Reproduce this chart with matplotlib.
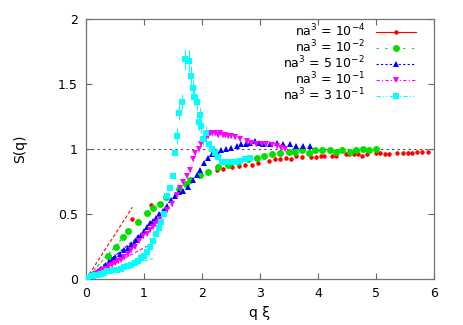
import matplotlib
matplotlib.use("Agg")
import matplotlib.pyplot as plt
from matplotlib.lines import Line2D
import numpy as np

# na^3 = 1e-4 (red)
red_x = [0.79, 1.12, 2.25, 2.37, 2.51, 2.64, 2.74, 2.86, 2.97, 3.16, 3.26, 3.34, 3.45,
         3.53, 3.63, 3.72, 3.88, 3.96, 4.05, 4.10, 4.25, 4.32, 4.48, 4.54, 4.62, 4.70,
         4.76, 4.84, 5.00, 5.07, 5.16, 5.23, 5.36, 5.47, 5.56, 5.63, 5.71, 5.79, 5.90]
red_y = [0.46, 0.57, 0.84, 0.85, 0.86, 0.87, 0.88, 0.88, 0.89, 0.91, 0.92, 0.92, 0.93,
         0.92, 0.95, 0.94, 0.94, 0.94, 0.95, 0.95, 0.95, 0.95, 0.96, 0.96, 0.96, 0.96,
         0.95, 0.96, 0.97, 0.97, 0.96, 0.96, 0.97, 0.97, 0.97, 0.97, 0.98, 0.98, 0.98]

# na^3 = 1e-2 (green)
green_x = [0.38, 0.52, 0.64, 0.72, 0.90, 1.05, 1.16, 1.28, 1.38, 1.60, 1.72, 1.80, 1.97,
           2.10, 2.28, 2.45, 2.62, 2.80, 2.95, 3.07, 3.20, 3.35, 3.50, 3.60, 3.73, 3.84,
           3.95, 4.07, 4.20, 4.31, 4.42, 4.55, 4.65, 4.77, 4.88, 5.00]
green_y = [0.18, 0.25, 0.32, 0.37, 0.44, 0.51, 0.55, 0.58, 0.63, 0.69, 0.73, 0.76, 0.80,
           0.82, 0.86, 0.88, 0.90, 0.92, 0.93, 0.95, 0.96, 0.97, 0.98, 0.98, 0.99, 0.97,
           0.99, 0.99, 0.99, 0.98, 0.99, 0.98, 0.99, 1.00, 0.99, 1.00]

# na^3 = 5e-2 (blue)
blue_x = [0.05, 0.10, 0.15, 0.21, 0.26, 0.30, 0.35, 0.40, 0.45, 0.50, 0.58, 0.66, 0.72,
          0.77, 0.82, 0.86, 0.90, 0.94, 1.00, 1.05, 1.11, 1.16, 1.20, 1.26, 1.32, 1.36,
          1.40, 1.47, 1.53, 1.60, 1.68, 1.76, 1.85, 1.92, 1.97, 2.03, 2.11, 2.18, 2.25,
          2.33, 2.42, 2.50, 2.60, 2.68, 2.76, 2.83, 2.91, 2.98, 3.06, 3.17, 3.29, 3.40,
          3.52, 3.63, 3.75, 3.86]
blue_y = [0.01, 0.03, 0.04, 0.06, 0.07, 0.09, 0.11, 0.13, 0.15, 0.17, 0.19, 0.22, 0.24,
          0.26, 0.28, 0.30, 0.32, 0.34, 0.37, 0.40, 0.43, 0.45, 0.47, 0.50, 0.52, 0.54,
          0.56, 0.61, 0.64, 0.67, 0.68, 0.71, 0.76, 0.80, 0.84, 0.89, 0.93, 0.96, 0.98,
          0.99, 1.00, 1.01, 1.02, 1.04, 1.04, 1.05, 1.06, 1.05, 1.04, 1.04, 1.05, 1.04,
          1.04, 1.02, 1.02, 1.02]

# na^3 = 1e-1 (magenta)
mag_x = [0.05, 0.10, 0.15, 0.20, 0.25, 0.30, 0.35, 0.40, 0.45, 0.50, 0.55, 0.60, 0.66,
         0.72, 0.77, 0.84, 0.91, 0.99, 1.05, 1.10, 1.15, 1.19, 1.24, 1.28, 1.34, 1.40,
         1.48, 1.56, 1.62, 1.68, 1.74, 1.79, 1.84, 1.88, 1.94, 1.99, 2.05, 2.10, 2.14,
         2.18, 2.22, 2.27, 2.31, 2.36, 2.40, 2.45, 2.50, 2.57, 2.66, 2.77, 2.85, 2.94,
         3.03, 3.11, 3.20, 3.29, 3.36, 3.43]
mag_y = [0.01, 0.02, 0.035, 0.05, 0.06, 0.07, 0.08, 0.10, 0.11, 0.12, 0.14, 0.15, 0.17,
         0.19, 0.22, 0.25, 0.29, 0.33, 0.35, 0.38, 0.40, 0.42, 0.44, 0.46, 0.50, 0.53,
         0.58, 0.65, 0.70, 0.75, 0.79, 0.84, 0.92, 0.97, 1.00, 1.04, 1.08, 1.10, 1.12,
         1.12, 1.12, 1.11, 1.12, 1.11, 1.11, 1.10, 1.10, 1.09, 1.08, 1.06, 1.05, 1.04,
         1.04, 1.04, 1.03, 1.02, 1.01, 1.00]

# na^3 = 3e-1 (cyan)
cyan_x = [0.04, 0.08, 0.12, 0.16, 0.20, 0.25, 0.30, 0.36, 0.42, 0.48, 0.54, 0.60, 0.66,
          0.72, 0.78, 0.84, 0.90, 0.95, 1.00, 1.05, 1.10, 1.15, 1.20, 1.25, 1.30, 1.35,
          1.40, 1.45, 1.50, 1.53, 1.56, 1.61, 1.65, 1.71, 1.78, 1.81, 1.84, 1.87, 1.91,
          1.94, 1.97, 1.99, 2.01, 2.07, 2.12, 2.17, 2.22, 2.28, 2.34, 2.40, 2.48, 2.57,
          2.66, 2.74, 2.83]
cyan_y = [0.01, 0.02, 0.02, 0.03, 0.03, 0.04, 0.05, 0.06, 0.06, 0.07, 0.07, 0.08, 0.09,
          0.10, 0.11, 0.12, 0.14, 0.16, 0.18, 0.21, 0.25, 0.29, 0.35, 0.39, 0.44, 0.50,
          0.64, 0.70, 0.79, 0.97, 1.10, 1.28, 1.36, 1.69, 1.68, 1.56, 1.47, 1.40, 1.36,
          1.21, 1.26, 1.18, 1.08, 1.12, 1.04, 1.00, 0.97, 0.94, 0.90, 0.90, 0.90, 0.90,
          0.91, 0.92, 0.93]

# low-q linear limits: slope and extent
lin_slopes = [0.69, 0.50, 0.36, 0.24, 0.137]
lin_xmax = [0.80, 0.72, 0.90, 1.05, 1.18]

labels = [r'na$^3$ = 10$^{-4}$', r'na$^3$ = 10$^{-2}$', r'na$^3$ = 5 10$^{-2}$',
          r'na$^3$ = 10$^{-1}$', r'na$^3$ = 3 10$^{-1}$']
colors = ['#ff0000', '#00e000', '#0000ff', '#ff00ff', '#00ffff']
markers = ['o', 'o', '^', 'v', 's']
msizes = [3.2, 5, 4.5, 4.5, 4.5]
key_styles = ['-', (0, (2, 6)), (0, (2, 2)), (0, (3, 2, 1, 2)), (0, (4, 2, 1, 2, 1, 2))]

data = [(red_x, red_y), (green_x, green_y), (blue_x, blue_y), (mag_x, mag_y), (cyan_x, cyan_y)]

fig = plt.figure(figsize=(4.63, 3.25), dpi=100)
ax = fig.add_axes([0.186, 0.1415, 0.751, 0.80])

ax.axhline(1.0, color='0.3', lw=0.8, ls=(0, (2, 3)), zorder=1)

for i, (xs, ys) in enumerate(data):
    xs = np.array(xs)
    ys = np.array(ys)
    # small error bars, larger around the cyan peak
    err = np.full(len(ys), 0.015)
    if i == 4:
        err = np.where(ys > 1.05, 0.06, 0.015)
        err = np.where(ys > 1.5, 0.08, err)
    ax.errorbar(xs, ys, yerr=err, fmt=markers[i], color=colors[i], ms=msizes[i],
                mew=0, elinewidth=0.7, capsize=1.5, capthick=0.7, zorder=3)
    lx = np.array([0, lin_xmax[i]])
    ax.plot(lx, lin_slopes[i] * lx, color=colors[i], lw=0.8, ls=(0, (3, 2)), zorder=2)

ax.set_xlim(0, 6)
ax.set_ylim(0, 2)
ax.set_xticks([0, 1, 2, 3, 4, 5, 6])
ax.set_yticks([0, 0.5, 1, 1.5, 2])
ax.set_yticklabels(['0', '0.5', '1', '1.5', '2'])
ax.tick_params(direction='in', length=4, width=0.8, color='0.4', labelsize=9,
               top=True, right=True, pad=6)
for s in ax.spines.values():
    s.set_color('0.45')
    s.set_linewidth(0.9)

ax.set_xlabel(u'q \u03be', fontsize=10, labelpad=4)
ax.set_ylabel('S(q)', fontsize=10, labelpad=22)

handles = [Line2D([0], [0], color=colors[i], ls=key_styles[i], lw=0.8,
                  marker=markers[i], ms=msizes[i], mew=0) for i in range(5)]
ax.legend(handles, labels, loc='upper right', bbox_to_anchor=(0.975, 1.02),
          frameon=False, markerfirst=False, fontsize=9, handlelength=3.2,
          handletextpad=0.9, labelspacing=-0.05, borderpad=0.2)

fig.savefig('out.png', dpi=100)
